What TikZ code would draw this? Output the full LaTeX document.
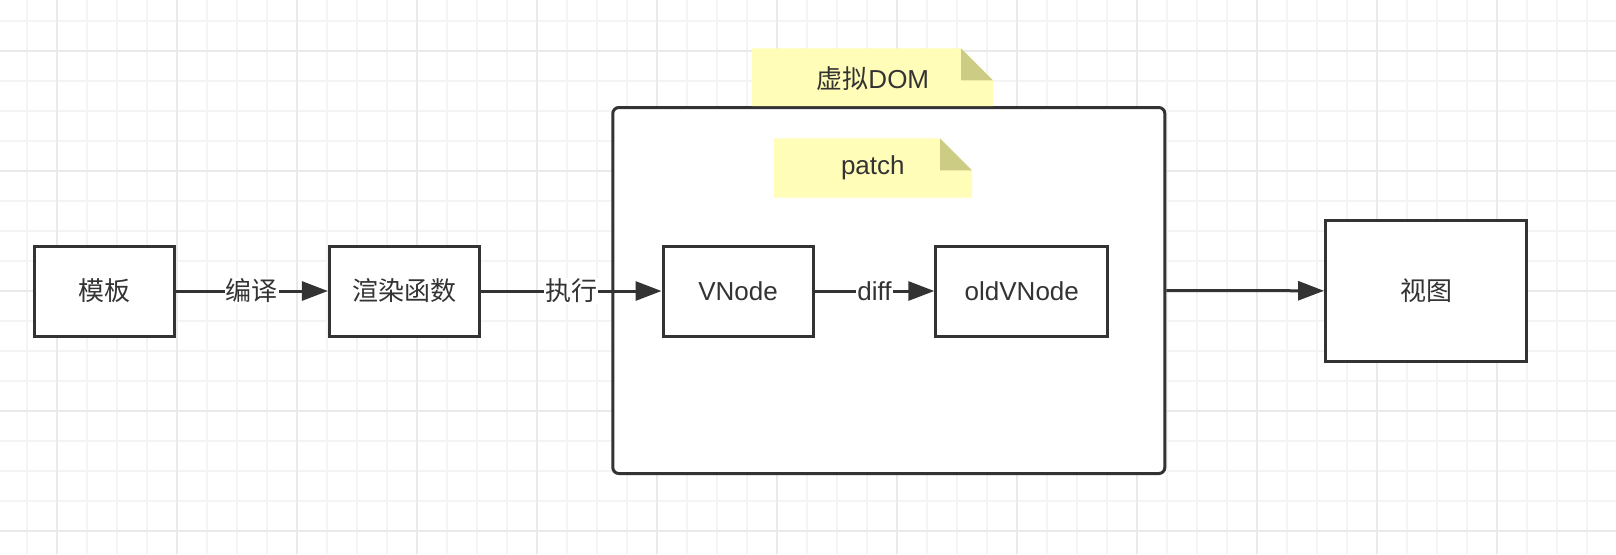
\documentclass[tikz,border=0pt]{standalone}
\usepackage{fontspec}
\setmainfont{Liberation Sans}
\newfontfamily\cjk{Noto Sans CJK SC}
\usetikzlibrary{arrows.meta}

\definecolor{ink}{HTML}{333333}
\definecolor{notefill}{HTML}{FFFDB8}
\definecolor{notefold}{HTML}{CDCC84}
\definecolor{minorcol}{HTML}{F4F4F4}
\definecolor{majorcol}{HTML}{EAEAEA}

\begin{document}
\begin{tikzpicture}[x=1pt, y=-1pt, >={Triangle[length=13pt,width=9.5pt]},
    font=\fontsize{13pt}{15pt}\selectfont,
    box/.style={draw=ink, line width=1.5pt, fill=white, text=ink, minimum height=45pt, inner sep=0pt},
    flow/.style={->, draw=ink, line width=1.5pt},
    elabel/.style={fill=white, text=ink, inner sep=0.5pt},
    notetext/.style={text=ink, inner sep=0pt},
    minorgrid/.style={minorcol, line width=1pt},
    majorgrid/.style={majorcol, line width=1pt}]
    \useasboundingbox (0,0) rectangle (808,277);

    % Background grid
    \foreach \k in {0,...,52}
        \draw[minorgrid] (13.35+15*\k,0) -- (13.35+15*\k,277);
    \foreach \k in {0,...,17}
        \draw[minorgrid] (0,10.35+15*\k) -- (808,10.35+15*\k);
    \foreach \k in {0,...,12}
        \draw[majorgrid] (28.35+60*\k,0) -- (28.35+60*\k,277);
    \foreach \k in {0,...,4}
        \draw[majorgrid] (0,25.35+60*\k) -- (808,25.35+60*\k);

    % Virtual DOM container
    \node[box, rounded corners=3pt, minimum width=276pt, minimum height=183pt] (vdom) at (444.4,145.25) {};

    % Notes with folded corner
    \fill[notefill] (376,24.2) -- (480.5,24.2) -- (496.5,40.2) -- (496.5,53) -- (376,53) -- cycle;
    \fill[notefold] (480.5,24.2) -- (480.5,40.2) -- (496.5,40.2) -- cycle;
    \node[notetext] (domlabel) at (436.4,39.2) {{\cjk 虚拟}DOM};

    \fill[notefill] (387,69.2) -- (470,69.2) -- (486,85.2) -- (486,98.8) -- (387,98.8) -- cycle;
    \fill[notefold] (470,69.2) -- (470,85.2) -- (486,85.2) -- cycle;
    \node[notetext] (patchlabel) at (436.4,84) {patch};

    % Boxes
    \node[box, minimum width=70pt] (tpl) at (52.1,145.5) {\cjk 模板};
    \node[box, minimum width=75pt] (render) at (202.2,145.5) {\cjk 渲染函数};
    \node[box, minimum width=75pt] (vnode) at (369,145.5) {VNode};
    \node[box, minimum width=86pt] (oldvnode) at (510.9,145.5) {oldVNode};
    \node[box, minimum width=100.5pt, minimum height=70.8pt] (view) at (713,145.4) {\cjk 视图};

    % Connectors
    \draw[flow] (tpl) -- node[elabel] (lblcompile) {\cjk 编译} (render);
    \draw[flow] (render) -- node[elabel] (lblrun) {\cjk 执行} (vnode);
    \draw[flow] (vnode) -- node[elabel] (lbldiff) {diff} (oldvnode);
    \draw[flow] (vdom.east) -- (view.west);

\end{tikzpicture}
\end{document}
